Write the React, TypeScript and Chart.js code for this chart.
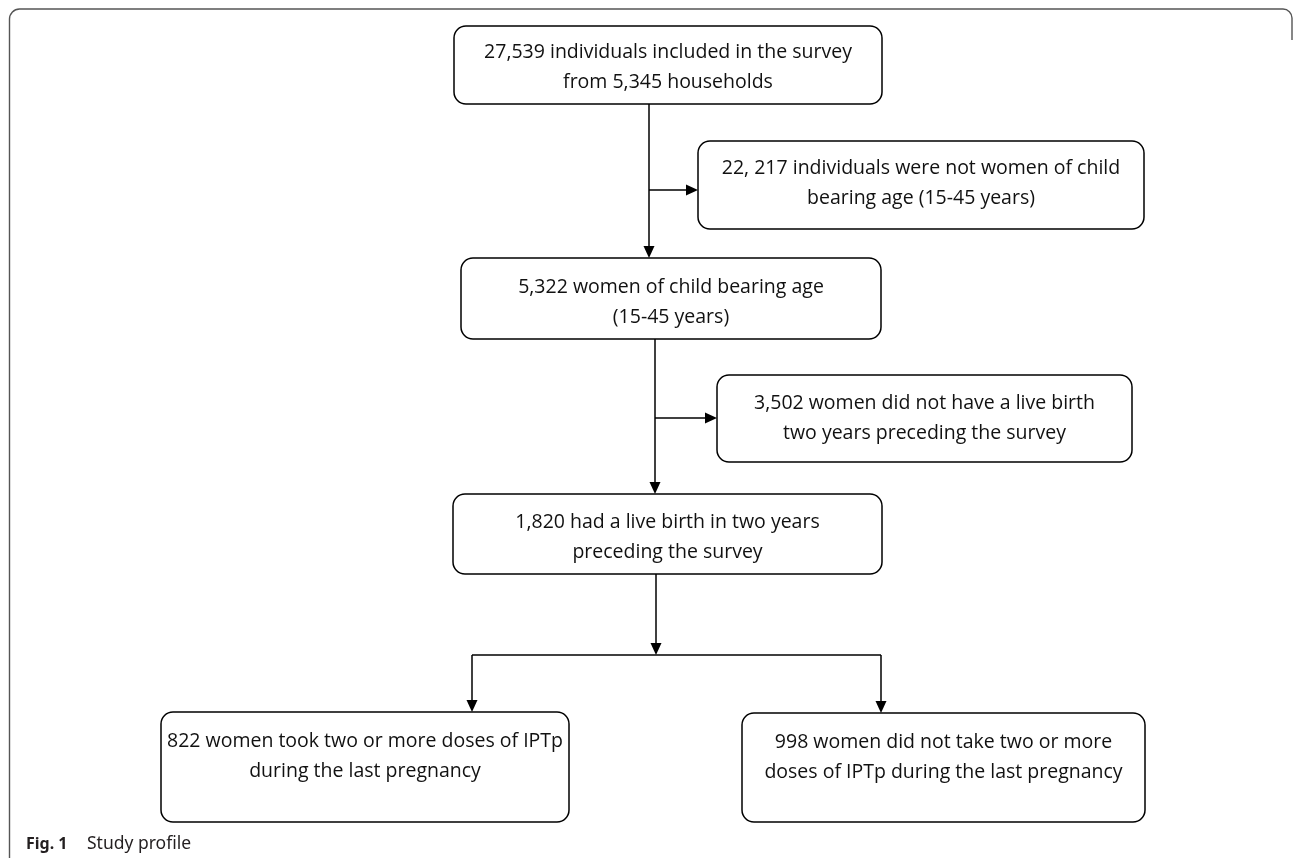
import React, { useEffect, useRef } from "react";
import { Chart, registerables } from "chart.js";

Chart.register(...registerables);

// ---- Data: flow counts and box texts ----
const stepCounts = [27539, 22217, 5322, 3502, 1820, 822, 998];
const boxLines: string[][] = [
  ["27,539 individuals included in the survey", "from 5,345 households"],
  ["22, 217 individuals were not women of child", "bearing age (15-45 years)"],
  ["5,322 women of child bearing age", "(15-45 years)"],
  ["3,502 women did not have a live birth", "two years preceding the survey"],
  ["1,820 had a live birth in two years", "preceding the survey"],
  ["822 women took two or more doses of IPTp", "during the last pregnancy"],
  ["998 women did not take two or more", "doses of IPTp during the last pregnancy"],
];
const captionBold = "Fig. 1";
const captionText = "Study profile";

// ---- Layout (data-space units of the hidden linear scales) ----
const boxLeft = [454, 698, 461, 717, 453, 161, 742];
const boxRight = [882, 1144, 881, 1132, 882, 569, 1145];
const boxTop = [26, 141, 258, 375, 494, 712, 713];
const boxBottom = [104, 229, 339, 462, 574, 822, 822];
const firstLineY = [52, 168, 287, 403, 522, 741, 742];
const lineGap = 30;

// connectors: [points...], arrow at end?
const connectors: { pts: [number, number][]; arrow: boolean }[] = [
  { pts: [[649, 104], [649, 258]], arrow: true },
  { pts: [[649, 190], [698, 190]], arrow: true },
  { pts: [[655, 339], [655, 494]], arrow: true },
  { pts: [[655, 418], [717, 418]], arrow: true },
  { pts: [[656, 574], [656, 655]], arrow: true },
  { pts: [[472, 655], [881, 655]], arrow: false },
  { pts: [[472, 655], [472, 712]], arrow: true },
  { pts: [[881, 655], [881, 713]], arrow: true },
];

const W = 1293;
const H = 858;

const flowPlugin = {
  id: "flowPlugin",
  afterDraw(chart: any) {
    const ctx: CanvasRenderingContext2D = chart.ctx;
    const xs = chart.scales.x;
    const ys = chart.scales.y;
    const px = (v: number) => xs.getPixelForValue(v);
    const py = (v: number) => ys.getPixelForValue(v);
    ctx.save();

    // outer frame
    ctx.strokeStyle = "#555555";
    ctx.lineWidth = 1.4;
    ctx.beginPath();
    ctx.moveTo(px(9.5), py(H + 5));
    ctx.lineTo(px(9.5), py(19));
    ctx.arcTo(px(9.5), py(9), px(19.5), py(9), 10);
    ctx.lineTo(px(1283), py(9));
    ctx.arcTo(px(1292), py(9), px(1292), py(19), 9);
    ctx.lineTo(px(1292), py(40));
    ctx.stroke();

    // boxes
    ctx.strokeStyle = "#000000";
    ctx.lineWidth = 1.5;
    for (let i = 0; i < boxLines.length; i++) {
      const l = px(boxLeft[i]);
      const r = px(boxRight[i]);
      const t = py(boxTop[i]);
      const b = py(boxBottom[i]);
      const rad = 12;
      ctx.beginPath();
      ctx.moveTo(l + rad, t);
      ctx.lineTo(r - rad, t);
      ctx.arcTo(r, t, r, t + rad, rad);
      ctx.lineTo(r, b - rad);
      ctx.arcTo(r, b, r - rad, b, rad);
      ctx.lineTo(l + rad, b);
      ctx.arcTo(l, b, l, b - rad, rad);
      ctx.lineTo(l, t + rad);
      ctx.arcTo(l, t, l + rad, t, rad);
      ctx.closePath();
      ctx.stroke();

      ctx.fillStyle = "#111111";
      ctx.font = '19.5px "Open Sans", sans-serif';
      ctx.textAlign = "center";
      ctx.textBaseline = "middle";
      const cx = (l + r) / 2;
      boxLines[i].forEach((line, k) => {
        ctx.fillText(line, cx, py(firstLineY[i] + k * lineGap));
      });
    }

    // connectors
    ctx.fillStyle = "#000000";
    for (const c of connectors) {
      const pts = c.pts.map(([x, y]) => [px(x), py(y)]);
      const n = pts.length;
      const [ex, ey] = pts[n - 1];
      const [sx, sy] = pts[n - 2];
      const ang = Math.atan2(ey - sy, ex - sx);
      const al = 12;
      const aw = 5.5;
      ctx.beginPath();
      ctx.moveTo(pts[0][0], pts[0][1]);
      for (let k = 1; k < n; k++) {
        if (k === n - 1 && c.arrow) {
          ctx.lineTo(ex - Math.cos(ang) * al, ey - Math.sin(ang) * al);
        } else {
          ctx.lineTo(pts[k][0], pts[k][1]);
        }
      }
      ctx.stroke();
      if (c.arrow) {
        const bx = ex - Math.cos(ang) * al;
        const by = ey - Math.sin(ang) * al;
        ctx.beginPath();
        ctx.moveTo(ex, ey);
        ctx.lineTo(bx + Math.sin(ang) * aw, by - Math.cos(ang) * aw);
        ctx.lineTo(bx - Math.sin(ang) * aw, by + Math.cos(ang) * aw);
        ctx.closePath();
        ctx.fill();
      }
    }

    // caption
    ctx.textAlign = "left";
    ctx.textBaseline = "alphabetic";
    ctx.fillStyle = "#231f20";
    ctx.font = 'bold 16px "Noto Sans", sans-serif';
    ctx.fillText(captionBold, px(26), py(849));
    ctx.font = '17.5px "Noto Sans", sans-serif';
    ctx.fillText(captionText, px(87), py(849));

    ctx.restore();
  },
};

export default function App() {
  const ref = useRef<HTMLCanvasElement | null>(null);
  useEffect(() => {
    if (!ref.current) return;
    const centers = boxLines.map((_, i) => ({
      x: (boxLeft[i] + boxRight[i]) / 2,
      y: (boxTop[i] + boxBottom[i]) / 2,
      n: stepCounts[i],
    }));
    const chart = new Chart(ref.current, {
      type: "scatter",
      data: {
        datasets: [
          {
            label: "Study flow",
            data: centers,
            pointRadius: 0,
            pointHoverRadius: 0,
            showLine: false,
          },
        ],
      },
      options: {
        animation: false,
        responsive: true,
        maintainAspectRatio: false,
        layout: { padding: 0 },
        events: [],
        plugins: { legend: { display: false }, tooltip: { enabled: false } },
        scales: {
          x: { type: "linear", min: 0, max: W, display: false },
          y: { type: "linear", min: 0, max: H, reverse: true, display: false },
        },
      },
      plugins: [flowPlugin],
    });
    return () => chart.destroy();
  }, []);
  return (
    <div style={{ position: "absolute", left: 0, top: 0, width: W, height: H, background: "#fff" }}>
      <canvas ref={ref} />
    </div>
  );
}
